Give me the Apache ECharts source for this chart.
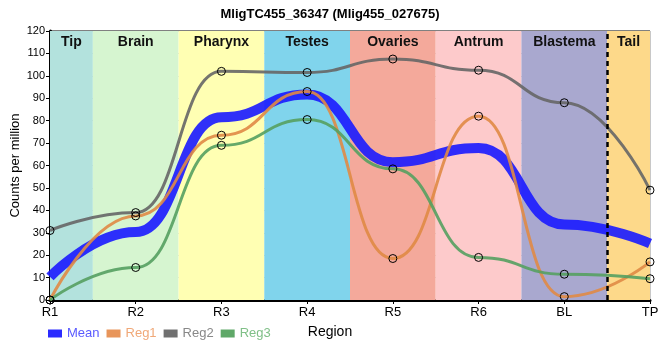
<!DOCTYPE html>
<html><head><meta charset="utf-8">
<script src="https://cdn.jsdelivr.net/npm/echarts@6/dist/echarts.min.js"></script>
<style>html,body{margin:0;padding:0;background:#fff}#c{width:660px;height:360px}</style>
</head><body><div id="c"></div>
<script>
var categories = ['R1','R2','R3','R4','R5','R6','BL','TP'];
var meanVals = [10.3, 30.3, 81.5, 91.7, 61.5, 67.8, 33.7, 25.2];
var reg1Vals = [0, 37.5, 73.5, 93, 18.5, 82, 1.5, 17];
var reg2Vals = [31, 39, 102, 101.5, 107.5, 102.5, 88, 49];
var reg3Vals = [0, 14.5, 69, 80.5, 58.5, 19, 11.5, 9.5];
var regionNames = ['Tip','Brain','Pharynx','Testes','Ovaries','Antrum','Blastema','Tail'];
var regionColors = ['#b3e2dd','#d6f5d0','#ffffb3','#80d4ec','#f4a99b','#fdcacb','#a9a8cf','#fdd98a'];
var yTicks = [0,10,20,30,40,50,60,70,80,90,100,110,120];

var FONT = '"Liberation Sans Narrow","Liberation Sans",Arial,sans-serif';
function pts(vals){ return vals.map(function(v,i){ return [i, v]; }); }
var n = categories.length;
var bands = regionNames.map(function(name, i){
  return [{xAxis: Math.max(0, i - 0.5), name: name, itemStyle:{color: regionColors[i]},
           label:{show:true, position:'insideTop', distance:4, fontFamily:FONT, fontWeight:'bold', fontSize:14, color:'#111'}},
          {xAxis: Math.min(n - 1, i + 0.5)}];
});

var chart = echarts.init(document.getElementById('c'), null, {renderer:'canvas'});
var lineSeries = function(name, vals, color, width, markers){
  return {
    name: name, type: 'line', data: pts(vals), smooth: 0.5, smoothMonotone: 'x',
    showSymbol: markers, symbol: 'circle', symbolSize: 8,
    itemStyle: {color: 'rgba(0,0,0,0)', borderColor: '#000', borderWidth: 1},
    lineStyle: {color: color, width: width, opacity: 0.9},
    emphasis: {disabled: true}, z: 3
  };
};
chart.setOption({
  animation: false,
  title: {text: 'MligTC455_36347 (Mlig455_027675)', left: 'center', top: 3,
    textStyle: {fontFamily: FONT, fontWeight: 'bold', fontSize: 13, color: '#000'}},
  grid: {left: 50, right: 10, top: 31, bottom: 60, show: true, borderColor: '#000', borderWidth: 1,
    containLabel: false, outerBoundsMode: 'none'},
  legend: {left: 43, top: 322, itemWidth: 14, itemHeight: 8, itemGap: 7, itemTextGap: 3,
    textStyle: {fontFamily: FONT, fontSize: 13},
    data: [
      {name: 'Mean', icon: 'rect', itemStyle:{color:'#2b2bff', borderWidth:0}, textStyle:{color:'#5a5aff'}},
      {name: 'Reg1', icon: 'rect', itemStyle:{color:'#e8955a', borderWidth:0}, textStyle:{color:'#f0a878'}, itemHeight: 3},
      {name: 'Reg2', icon: 'rect', itemStyle:{color:'#707070', borderWidth:0}, textStyle:{color:'#888'}, itemHeight: 3},
      {name: 'Reg3', icon: 'rect', itemStyle:{color:'#5fa868', borderWidth:0}, textStyle:{color:'#80c088'}, itemHeight: 3}
    ]},
  xAxis: {type: 'value', min: 0, max: n - 1, interval: 1,
    name: 'Region', nameLocation: 'middle', nameGap: 25,
    nameTextStyle: {fontFamily: FONT, fontSize: 14, color: '#000', padding: [0, 40, 0, 0]},
    axisLine: {lineStyle: {color: '#000', width: 3}},
    axisTick: {show: true, length: 4, lineStyle: {color: '#000'}},
    axisLabel: {fontFamily: FONT, fontSize: 13, color: '#000', margin: 6,
      formatter: function(v){ return categories[v] || ''; }},
    splitLine: {show: true, lineStyle: {color: '#c8c8c8', width: 1}}},
  yAxis: {type: 'value', min: yTicks[0], max: yTicks[yTicks.length-1], interval: yTicks[1]-yTicks[0],
    name: 'Counts per million', nameLocation: 'middle', nameGap: 28, nameMoveOverlap: false,
    nameTextStyle: {fontFamily: FONT, fontSize: 13, color: '#000'},
    axisLine: {show: true, lineStyle: {color: '#000', width: 3}},
    axisTick: {show: true, length: 4, lineStyle: {color: '#000'}},
    axisLabel: {fontFamily: FONT, fontSize: 11, color: '#000', margin: 5},
    splitLine: {show: true, lineStyle: {color: '#c8c8c8', width: 1}}},
  series: [
    {name: 'bands', type: 'line', data: [], z: 1,
     markArea: {silent: true, data: bands},
     markLine: {silent: true, symbol: 'none', label: {show: false},
       lineStyle: {color: '#000', type: [5, 4], width: 2.5},
       data: [{xAxis: n - 1.5}]}},
    lineSeries('Reg1', reg1Vals, '#e08a45', 3, true),
    lineSeries('Reg2', reg2Vals, '#666666', 3, true),
    lineSeries('Reg3', reg3Vals, '#55a060', 3, true),
    Object.assign(lineSeries('Mean', meanVals, '#1a1aff', 10, false), {z: 2})
  ]
});
</script></body></html>
